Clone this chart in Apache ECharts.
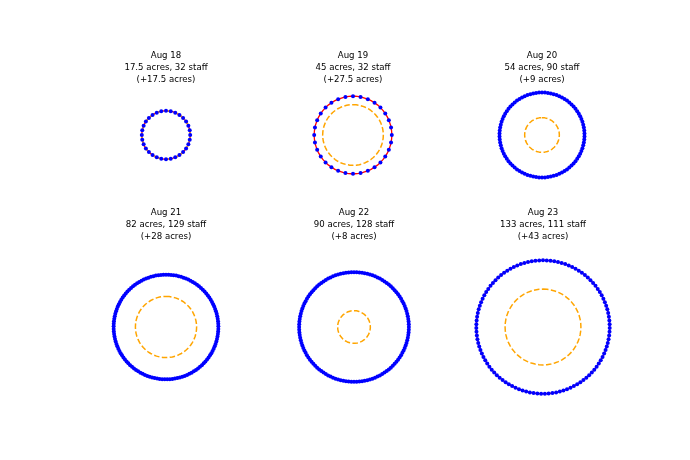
<!DOCTYPE html>
<html>
<head>
<meta charset="utf-8">
<script src="https://cdn.jsdelivr.net/npm/echarts@6/dist/echarts.min.js"></script>
<style>
  html, body { margin: 0; padding: 0; background: #fff; }
  #main { width: 690px; height: 460px; }
</style>
</head>
<body>
<div id="main"></div>
<script>
// data
var days = ['Aug 18', 'Aug 19', 'Aug 20', 'Aug 21', 'Aug 22', 'Aug 23'];
var acres = [17.5, 45, 54, 82, 90, 133];
var staff = [32, 32, 90, 129, 128, 111];
var added = [17.5, 27.5, 9, 28, 8, 43];

// panel centres (px)
var centers = [[166, 135], [353, 135], [542, 135], [166, 327], [354, 327], [543, 327]];
var titleTops = [50, 50, 50, 207, 207, 207];

var chart = echarts.init(document.getElementById('main'));

// area -> radius, so circle area follows acres
function rad(a) {
  return Math.sqrt(a / Math.PI);
}

function ring(r) {
  var pts = [];
  for (var a = 0; a <= 360; a += 3) pts.push([r, a]);
  return pts;
}

function dots(r, n) {
  var pts = [];
  for (var i = 0; i < n; i++) pts.push([r, i * 360 / n]);
  return pts;
}

var polar = [], angleAxis = [], radiusAxis = [], series = [], texts = [];

days.forEach(function (d, i) {
  polar.push({ center: centers[i], radius: [0, 82] });
  angleAxis.push({ polarIndex: i, type: 'value', min: 0, max: 360, show: false });
  radiusAxis.push({ polarIndex: i, type: 'value', min: 0, max: 8, show: false });

  texts.push({
    type: 'text',
    x: centers[i][0],
    y: titleTops[i],
    silent: true,
    style: {
      text: d + '\n' + acres[i] + ' acres, ' + staff[i] + ' staff\n(+' + added[i] + ' acres)',
      align: 'center',
      verticalAlign: 'top',
      fontFamily: 'DejaVu Sans',
      fontSize: 8.6,
      lineHeight: 12,
      fill: '#000'
    }
  });

  // acreage perimeter
  series.push({
    type: 'line',
    coordinateSystem: 'polar',
    polarIndex: i,
    z: 1,
    symbol: 'none',
    silent: true,
    lineStyle: { color: '#ff0000', width: 1.3 },
    data: ring(rad(acres[i]))
  });
  // newly added acreage
  series.push({
    type: 'line',
    coordinateSystem: 'polar',
    polarIndex: i,
    z: 2,
    symbol: 'none',
    silent: true,
    lineStyle: { color: '#ffa500', width: 1.5, type: [5.5, 2.4] },
    data: ring(rad(added[i]))
  });
  // one dot per staff member
  series.push({
    type: 'scatter',
    coordinateSystem: 'polar',
    polarIndex: i,
    z: 5,
    symbolSize: 4,
    silent: true,
    itemStyle: { color: '#0000ff', opacity: 1 },
    data: dots(rad(acres[i]), staff[i])
  });
});

chart.setOption({
  animation: false,
  polar: polar,
  angleAxis: angleAxis,
  radiusAxis: radiusAxis,
  graphic: texts,
  series: series
});
</script>
</body>
</html>
